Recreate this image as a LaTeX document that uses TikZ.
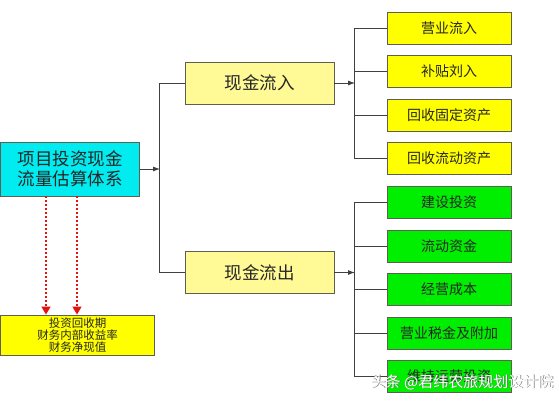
\documentclass[tikz,border=0pt]{standalone}
\usepackage{fontspec}
\newfontfamily\cjk{Noto Sans CJK SC}
\usetikzlibrary{arrows.meta}
\definecolor{sysfill}{RGB}{0,236,240}
\definecolor{flowfill}{RGB}{255,250,150}
\definecolor{infill}{RGB}{255,255,0}
\definecolor{outfill}{RGB}{0,238,0}
\definecolor{edgegray}{RGB}{95,95,80}
\definecolor{dotred}{RGB}{225,20,20}
\begin{document}
\begin{tikzpicture}[x=1pt,y=-1pt,font=\cjk,
  box/.style={draw=edgegray,line width=0.9pt,rectangle,align=center,text=black!85,inner sep=0pt},
  sysbox/.style={box,fill=sysfill,minimum width=139pt,minimum height=54pt,font=\cjk\fontsize{17.5}{20}\selectfont},
  flowbox/.style={box,fill=flowfill,minimum width=149pt,minimum height=42pt,font=\cjk\fontsize{17.5}{20}\selectfont},
  inbox/.style={box,fill=infill,minimum width=124pt,minimum height=32pt,font=\cjk\fontsize{14}{16}\selectfont},
  outbox/.style={box,fill=outfill,minimum width=124pt,minimum height=32pt,font=\cjk\fontsize{14}{16}\selectfont},
  resbox/.style={box,fill=infill,minimum width=154pt,minimum height=40pt,font=\cjk\fontsize{11.5}{12}\selectfont},
  link/.style={draw=black!75,line width=0.8pt},
  linkarr/.style={link,-{Latex[length=7pt,width=5pt]}},
  reddot/.style={draw=dotred,line width=1.4pt,dash pattern=on 1.6pt off 2.4pt,-{Triangle[length=8pt,width=9pt,fill=dotred]}}]
\useasboundingbox[fill=white] (0,0) rectangle (559,400);

\node[sysbox] (sys) at (70,169) {项目投资现金\\流量估算体系};
\node[flowbox] (in) at (259.5,83) {现金流入};
\node[flowbox] (out) at (259.5,272.5) {现金流出};
\node[resbox] (res) at (77.5,335) {投资回收期\\财务内部收益率\\财务净现值};

% inflow items
\node[inbox] (y1) at (449,28) {营业流入};
\node[inbox] (y2) at (449,71.5) {补贴刘入};
\node[inbox] (y3) at (449,115) {回收固定资产};
\node[inbox] (y4) at (449,158.5) {回收流动资产};

% outflow items
\node[outbox] (g1) at (449,202) {建设投资};
\node[outbox] (g2) at (449,246) {流动资金};
\node[outbox] (g3) at (449,289) {经营成本};
\node[outbox] (g4) at (449,333) {营业税金及附加};
\node[outbox] (g5) at (449,376) {维持运营投资};

\coordinate (sysj) at (160,169);
\coordinate (inj) at (355,83);
\coordinate (outj) at (355,272.5);

\draw[linkarr] (sys.east) -- (sysj);
\draw[link] (in.west) -- ++(-25,0) |- (out.west);
\draw[linkarr] (in.east) -- (inj);
\draw[linkarr] (out.east) -- (outj);
\draw[link] (y1.west) -- ++(-32,0) |- (y4.west);
\foreach \n in {y2,y3}
  \draw[link] (\n.west) -- ++(-32,0);
\draw[link] (g1.west) -- ++(-32,0) |- (g5.west);
\foreach \n in {g2,g3,g4}
  \draw[link] (\n.west) -- ++(-32,0);

\draw[reddot] ([xshift=-24pt]sys.south) -- ([xshift=-31.5pt]res.north);
\draw[reddot] ([xshift=7pt]sys.south) -- ([xshift=-0.5pt]res.north);

% watermark
\node[text=black!55,font=\cjk\fontsize{15}{17}\selectfont] (wms) at (462.8,382.8) {头条 @君纬农旅规划设计院};
\node[text=white,font=\cjk\fontsize{15}{17}\selectfont] (wm) at (462,382) {头条 @君纬农旅规划设计院};
\end{tikzpicture}
\end{document}
